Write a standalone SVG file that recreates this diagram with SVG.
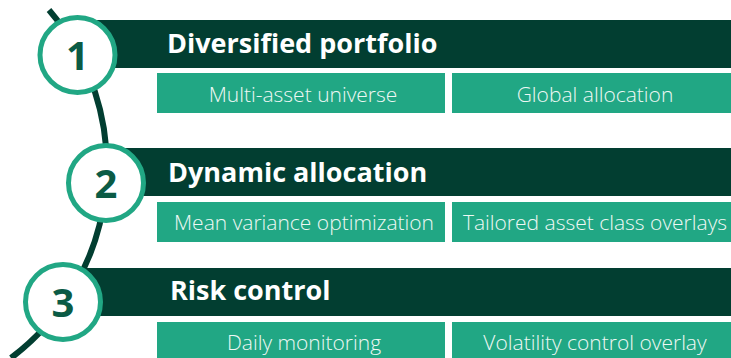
<svg xmlns="http://www.w3.org/2000/svg" width="731" height="358" viewBox="0 0 731 358">
<style>
.bar{fill:#023e31}
.sub{fill:#21a784}
.ring{fill:#ffffff;stroke:#21a784;stroke-width:5}
.num{font-family:"Open Sans","Liberation Sans",sans-serif;font-weight:700;font-size:40px;fill:#0b5b45;text-anchor:middle}
.title{font-family:"Open Sans","Liberation Sans",sans-serif;font-weight:700;font-size:27px;fill:#ffffff}
.label{font-family:"Open Sans","Liberation Sans",sans-serif;font-weight:300;font-size:21px;fill:#eef8f4;text-anchor:middle}
</style>
<g id="connectors">
<path d="M 49 10 A 240 240 0 0 1 11 358" fill="none" stroke="#023e31" stroke-width="6"/>
</g>
<g id="step1">
<rect class="bar" x="78" y="20" width="653" height="48"/>
<text class="title" x="167" y="53">Diversified portfolio</text>
<rect class="sub" x="157" y="73" width="288" height="40"/>
<text class="label" x="303" y="102">Multi-asset universe</text>
<rect class="sub" x="452" y="73" width="279" height="40"/>
<text class="label" x="595" y="102">Global allocation</text>
<circle class="ring" cx="77.5" cy="55" r="37.5"/>
<text class="num" x="77.5" y="70">1</text>
</g>
<g id="step2">
<rect class="bar" x="106" y="148" width="625" height="48"/>
<text class="title" x="168" y="182">Dynamic allocation</text>
<rect class="sub" x="157" y="202" width="288" height="40"/>
<text class="label" x="304" y="230">Mean variance optimization</text>
<rect class="sub" x="452" y="202" width="279" height="40"/>
<text class="label" x="595" y="230">Tailored asset class overlays</text>
<circle class="ring" cx="106" cy="183" r="37.5"/>
<text class="num" x="106" y="198">2</text>
</g>
<g id="step3">
<rect class="bar" x="63" y="268" width="668" height="48"/>
<text class="title" x="170" y="300">Risk control</text>
<rect class="sub" x="157" y="322" width="288" height="40"/>
<text class="label" x="304" y="350">Daily monitoring</text>
<rect class="sub" x="452" y="322" width="279" height="40"/>
<text class="label" x="595" y="350">Volatility control overlay</text>
<circle class="ring" cx="63" cy="302" r="37.5"/>
<text class="num" x="63" y="317">3</text>
</g>
</svg>
